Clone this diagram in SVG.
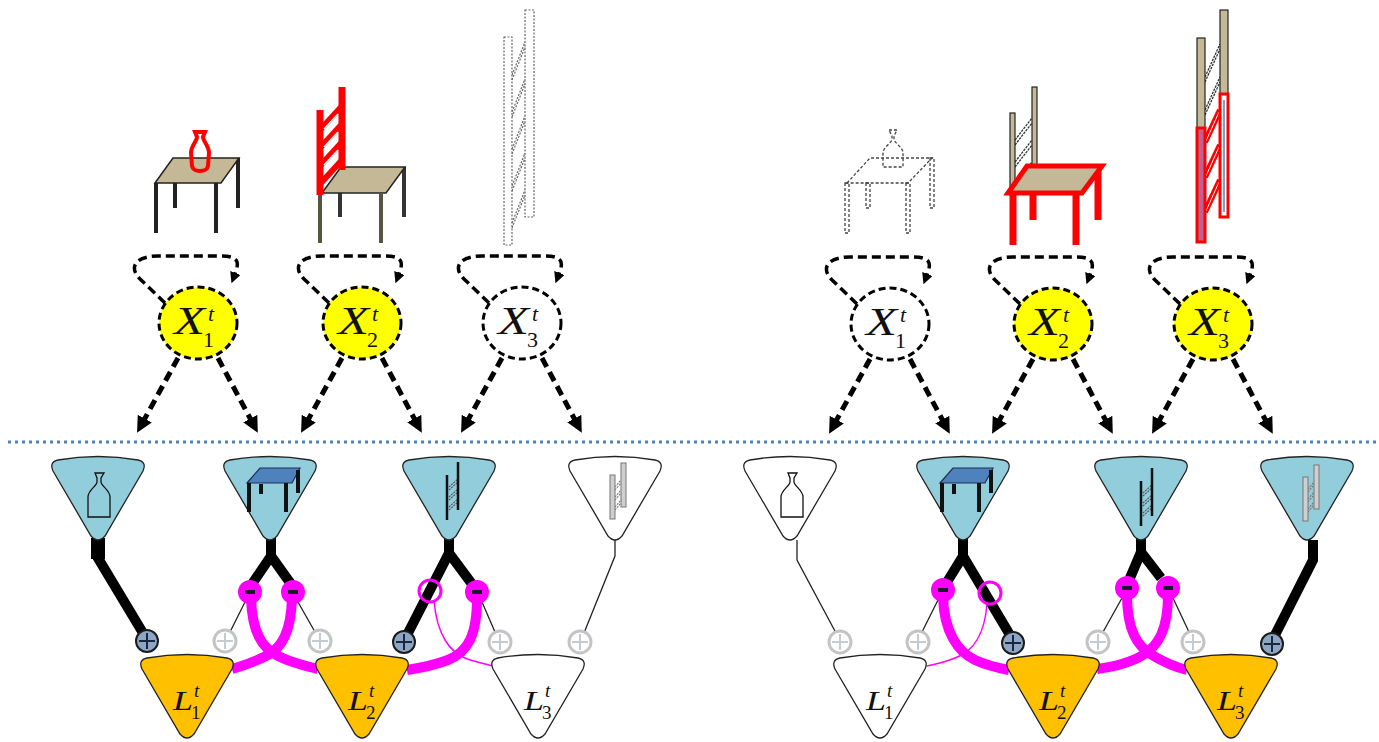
<svg xmlns="http://www.w3.org/2000/svg" xmlns:xlink="http://www.w3.org/1999/xlink" width="1379" height="742" viewBox="0 0 1379 742">
<defs>
<style>
.loop{fill:none;stroke:#000;stroke-width:3.5;stroke-dasharray:9 5;marker-end:url(#ahs)}
.down{fill:none;stroke:#000;stroke-width:5;stroke-dasharray:10 6;marker-end:url(#ah)}
.xn{stroke:#000;stroke-width:3;stroke-dasharray:7 4}
.yel{fill:#ffff00}
.wht{fill:#fff}
.obj{fill:#92cddc;stroke:#222;stroke-width:1.3}
.objw{fill:#fff;stroke:#222;stroke-width:1.3}
.lat{fill:#ffc000;stroke:#222;stroke-width:1.3}
.latw{fill:#fff;stroke:#222;stroke-width:1.3}
.thick{fill:none;stroke:#000;stroke-width:10;stroke-linejoin:miter}
.thin{fill:none;stroke:#222;stroke-width:1.3}
.mag{fill:none;stroke:#ff00ff;stroke-width:10;stroke-linecap:butt}
.magt{fill:none;stroke:#ff00ff;stroke-width:1.5}
.lbl{font-family:"Liberation Serif","Times New Roman",serif;font-style:italic;fill:#111}
.up{font-style:normal}
.tan{fill:#c4b896}
.dot{fill:none;stroke:#666;stroke-width:1.2;stroke-dasharray:2 1.5}
.hatch{fill:none;stroke:#333;stroke-width:1.3;stroke-dasharray:2.5 1}
</style>
<marker id="ah" viewBox="0 0 10 10" refX="1" refY="5" markerWidth="16" markerHeight="16" markerUnits="userSpaceOnUse" orient="auto"><path d="M0,0 L10,5 L0,10 z" fill="#000"/></marker>
<marker id="ahs" viewBox="0 0 10 10" refX="1" refY="5" markerWidth="11" markerHeight="11" markerUnits="userSpaceOnUse" orient="auto"><path d="M0,0 L10,5 L0,10 z" fill="#000"/></marker>
<path id="tri" d="M -40,0 Q 0,-7 40,0 Q 49,2 45,11 L 7,76 Q 0,84 -7,76 L -45,11 Q -49,2 -40,0 Z"/>
<g id="plusB"><circle r="11" fill="#8ea6c4" stroke="#1b1b1b" stroke-width="2"/><path d="M-8,0 H8 M0,-8 V8" stroke="#1a2740" stroke-width="2"/></g>
<g id="plusG"><circle r="11" fill="#fff" stroke="#c4c4c4" stroke-width="3"/><path d="M-8,0 H8 M0,-8 V8" stroke="#c4cbd2" stroke-width="2"/></g>
<g id="minus"><circle r="12" fill="#ff00ff"/><rect x="-5" y="-2" width="10" height="4" fill="#1a1a2a"/></g>
<circle id="ring" r="11" fill="none" stroke="#ff00ff" stroke-width="3"/>
<path id="vaseS" d="M -4,473 L 5,473 L 2,478 L 2,482 C 2,486 11,490 11,497 L 11,517 L -11,517 L -11,497 C -11,490 -2,486 -2,482 L -2,478 Z" fill="none" stroke="#111" stroke-width="1.3"/>
<g id="tableS">
<polygon points="247,483 260,468 300,468 292,483" fill="#4f81bd" stroke="#1f3050" stroke-width="1.2"/>
<path d="M249,483 V512 M286,483 V512 M298,470 V493 M261,484 V494" stroke="#111" stroke-width="4" fill="none"/>
</g>
<g id="ladS">
<path d="M449,487 L458,479 M449,490 L458,482 M449,497 L458,489 M449,500 L458,492 M449,507 L458,499 M449,510 L458,502" stroke="#555" stroke-width="1.1" fill="none" stroke-dasharray="2 1"/>
<path d="M447,475 V520 M458,462 V510" stroke="#111" stroke-width="2.5" fill="none"/>
</g>
<g id="ladG">
<path d="M615,487 L622,479 M615,490 L622,482 M615,497 L622,489 M615,500 L622,492 M615,507 L622,499 M615,510 L622,502" stroke="#777" stroke-width="1.1" fill="none" stroke-dasharray="2 1"/>
<rect x="610" y="475" width="5" height="44" fill="#cfcfcf" stroke="#777" stroke-width="1"/>
<rect x="621" y="463" width="5" height="44" fill="#cfcfcf" stroke="#777" stroke-width="1"/>
</g>
</defs>

<rect width="1379" height="742" fill="#fff"/>

<!-- scene objects, left frame -->
<g id="scene-left-table">
<line x1="175" y1="183" x2="175" y2="208" stroke="#222" stroke-width="4"/>
<line x1="238" y1="158" x2="238" y2="208" stroke="#222" stroke-width="4"/>
<polygon class="tan" points="155,183 173,158 239,158 221,183" stroke="#222" stroke-width="1.5"/>
<line x1="156" y1="183" x2="156" y2="233" stroke="#222" stroke-width="4"/>
<line x1="216" y1="183" x2="216" y2="233" stroke="#222" stroke-width="4"/>
<path d="M 195,132 L 205,132 L 203,137 C 203,141 209,146 209,153 L 208,166 C 207,170 205,171 200,171 C 195,171 193,170 192,166 L 191,153 C 191,146 197,141 197,137 Z" fill="none" stroke="#ff0000" stroke-width="4"/>
</g>
<g id="scene-left-chair">
<line x1="340" y1="190" x2="340" y2="217" stroke="#333" stroke-width="4"/>
<line x1="404" y1="167" x2="404" y2="217" stroke="#333" stroke-width="4"/>
<polygon class="tan" points="322,193 341,167 405,167 386,193" stroke="#222" stroke-width="1.5"/>
<line x1="320" y1="193" x2="320" y2="243" stroke="#555540" stroke-width="4"/>
<line x1="381" y1="193" x2="381" y2="243" stroke="#555540" stroke-width="4"/>
<g stroke="#ff0000" stroke-width="7">
<line x1="320" y1="110" x2="320" y2="195"/>
<line x1="342" y1="87" x2="342" y2="170"/>
<line x1="320" y1="130" x2="342" y2="106" stroke-width="6"/>
<line x1="320" y1="148" x2="342" y2="124" stroke-width="6"/>
<line x1="320" y1="166" x2="342" y2="142" stroke-width="6"/>
<line x1="320" y1="184" x2="342" y2="160" stroke-width="6"/>
</g>
<g stroke="#fff" stroke-width="1.5">
<line x1="324" y1="129" x2="338" y2="114"/>
<line x1="324" y1="147" x2="338" y2="132"/>
<line x1="324" y1="165" x2="338" y2="150"/>
</g>
</g>
<g id="scene-left-ladder">
<path class="dot" stroke="#555" d="M512,75 L525,42 M512,80 L525,47 M512,112 L525,79 M512,117 L525,84 M512,149 L525,116 M512,154 L525,121 M512,186 L525,153 M512,191 L525,158 M512,223 L525,190 M512,228 L525,195"/>
<rect class="dot" x="504" y="37" width="8" height="208"/>
<rect class="dot" x="525" y="10" width="9" height="207"/>
</g>

<!-- scene objects, right frame -->
<g id="scene-right-table">
<g fill="none" stroke="#444" stroke-width="1.3" stroke-dasharray="3 2">
<polygon points="847,183 870,158 932,158 908,183"/>
<rect x="845" y="183" width="4" height="50"/>
<rect x="906" y="183" width="4" height="50"/>
<rect x="930" y="158" width="4" height="50"/>
<rect x="866" y="183" width="4" height="25"/>
<path d="M 889,130 L 897,130 L 894,136 L 894,139 C 894,143 903,147 903,153 L 903,167 L 883,167 L 883,153 C 883,147 892,143 892,139 L 892,136 Z"/>
</g>
</g>
<g id="scene-right-chair">
<path class="hatch" d="M1015,140 L1032,118 M1015,145 L1032,123 M1015,162 L1032,140 M1015,167 L1032,145 M1015,184 L1032,162 M1015,189 L1032,167"/>
<rect class="tan" x="1010" y="113" width="5" height="82" stroke="#222" stroke-width="1.2"/>
<rect class="tan" x="1032" y="87" width="5" height="80" stroke="#222" stroke-width="1.2"/>
<g stroke="#ff0000" stroke-width="7">
<line x1="1033" y1="193" x2="1033" y2="220"/>
<line x1="1098" y1="166" x2="1098" y2="220"/>
</g>
<polygon class="tan" points="1008,193 1027,166 1102,166 1082,193" stroke="#ff0000" stroke-width="5"/>
<g stroke="#ff0000" stroke-width="7">
<line x1="1013" y1="193" x2="1013" y2="245"/>
<line x1="1076" y1="193" x2="1076" y2="245"/>
</g>
</g>
<g id="scene-right-ladder">
<path class="hatch" d="M1205,77 L1220,44 M1205,82 L1220,49 M1205,110 L1220,77 M1205,115 L1220,82"/>
<rect class="tan" x="1197" y="38" width="8" height="90" stroke="#222" stroke-width="1.2"/>
<rect class="tan" x="1220" y="10" width="8" height="84" stroke="#222" stroke-width="1.2"/>
<g stroke="#ff0000" stroke-width="6">
<line x1="1205" y1="142" x2="1220" y2="110"/>
<line x1="1205" y1="177" x2="1220" y2="145"/>
<line x1="1205" y1="212" x2="1220" y2="180"/>
</g>
<g stroke="#fff" stroke-width="1">
<line x1="1206" y1="141" x2="1219" y2="112"/>
<line x1="1206" y1="176" x2="1219" y2="147"/>
<line x1="1206" y1="211" x2="1219" y2="182"/>
</g>
<rect x="1197" y="128" width="8" height="114" fill="#c06090" stroke="#ff0000" stroke-width="3"/>
<rect x="1220" y="94" width="8" height="123" fill="#fff" stroke="#ff0000" stroke-width="3"/>
<line x1="1224" y1="100" x2="1224" y2="212" stroke="#5a7fb5" stroke-width="1.5"/>
</g>

<!-- frame separator -->
<line id="separator" x1="8" y1="442" x2="1377" y2="442" stroke="#4f81bd" stroke-width="3" stroke-dasharray="3 4"/>

<!-- connectors -->
<g id="connectors">
<g transform="translate(198,323)"><path class="loop" d="M -33,-20 L -58,-44 C -70,-56 -62,-67 -40,-67 L 22,-67 C 40,-67 42,-62 37,-49"/><path class="down" d="M -20,35 L -54,97"/><path class="down" d="M 20,35 L 53,97"/></g>
<g transform="translate(362,323)"><path class="loop" d="M -33,-20 L -58,-44 C -70,-56 -62,-67 -40,-67 L 22,-67 C 40,-67 42,-62 37,-49"/><path class="down" d="M -20,35 L -54,97"/><path class="down" d="M 20,35 L 53,97"/></g>
<g transform="translate(522,323)"><path class="loop" d="M -33,-20 L -58,-44 C -70,-56 -62,-67 -40,-67 L 22,-67 C 40,-67 42,-62 37,-49"/><path class="down" d="M -20,35 L -54,97"/><path class="down" d="M 20,35 L 53,97"/></g>
<g transform="translate(890,324)"><path class="loop" d="M -33,-20 L -58,-44 C -70,-56 -62,-67 -40,-67 L 22,-67 C 40,-67 42,-62 37,-49"/><path class="down" d="M -20,35 L -54,97"/><path class="down" d="M 20,35 L 53,97"/></g>
<g transform="translate(1053,324)"><path class="loop" d="M -33,-20 L -58,-44 C -70,-56 -62,-67 -40,-67 L 22,-67 C 40,-67 42,-62 37,-49"/><path class="down" d="M -20,35 L -54,97"/><path class="down" d="M 20,35 L 53,97"/></g>
<g transform="translate(1213,324)"><path class="loop" d="M -33,-20 L -58,-44 C -70,-56 -62,-67 -40,-67 L 22,-67 C 40,-67 42,-62 37,-49"/><path class="down" d="M -20,35 L -54,97"/><path class="down" d="M 20,35 L 53,97"/></g>

<!-- left frame links -->
<rect x="91" y="538" width="14" height="21" fill="#000"/>
<path class="thick" d="M 98,550 L 98,558 L 143,633"/>
<path class="thick" d="M 271,536 L 271,556 L 252,584 M 271,556 L 291,584"/>
<path class="thick" d="M 449,536 L 449,553 L 407,635 M 449,553 L 472,584"/>
<path class="thin" d="M 615,540 L 615,556 L 584,633"/>
<path class="thin" d="M 245,602 L 230,632 M 298,602 L 315,632 M 482,602 L 495,632"/>
<path class="mag" d="M 251,598 C 252,632 262,648 278,656 C 290,662 305,666 318,669"/>
<path class="mag" d="M 292,598 C 291,632 282,648 266,656 C 254,662 242,666 232,669"/>
<path class="magt" d="M 434,601 C 437,635 450,652 465,658 C 475,662 485,664 493,666"/>
<path class="mag" d="M 477,598 C 477,635 468,652 448,660 C 432,666 420,668 407,670"/>
<use href="#plusB" x="147" y="641"/>
<use href="#plusG" x="225" y="641"/>
<use href="#plusG" x="320" y="641"/>
<use href="#plusB" x="404" y="642"/>
<use href="#plusG" x="500" y="642"/>
<use href="#plusG" x="580" y="642"/>
<use href="#minus" x="250" y="592"/>
<use href="#minus" x="293" y="592"/>
<use href="#ring" x="430" y="591"/>
<use href="#minus" x="477" y="592"/>

<!-- right frame links -->
<path class="thin" d="M 797,540 L 797,560 L 836,633"/>
<path class="thick" d="M 963,536 L 963,556 L 947,582 M 963,556 L 1010,635"/>
<path class="thick" d="M 1141,536 L 1141,552 L 1130,578 M 1141,552 L 1161,578"/>
<path class="thick" d="M 1313,540 L 1313,560 L 1275,635"/>
<path class="thin" d="M 938,600 L 922,632 M 1122,598 L 1103,632 M 1173,598 L 1189,632"/>
<path class="magt" d="M 987,603 C 985,635 972,652 955,658 C 945,662 937,664 927,666"/>
<path class="mag" d="M 943,597 C 944,632 958,652 975,660 C 988,666 998,668 1009,670"/>
<path class="mag" d="M 1127,595 C 1127,630 1137,646 1152,655 C 1165,663 1175,667 1187,670"/>
<path class="mag" d="M 1168,595 C 1168,630 1158,646 1143,655 C 1130,663 1112,667 1097,669"/>
<use href="#plusG" x="840" y="642"/>
<use href="#plusG" x="918" y="642"/>
<use href="#plusB" x="1013" y="643"/>
<use href="#plusG" x="1098" y="642"/>
<use href="#plusG" x="1193" y="642"/>
<use href="#plusB" x="1272" y="644"/>
<use href="#minus" x="943" y="590"/>
<use href="#ring" x="990" y="593"/>
<use href="#minus" x="1127" y="588"/>
<use href="#minus" x="1168" y="588"/>
</g>

<!-- hidden state nodes -->
<g id="X1-left"><ellipse class="xn yel" cx="198" cy="323" rx="39" ry="36"/><text class="lbl" x="174" y="334" font-size="40" textLength="31" lengthAdjust="spacingAndGlyphs">X</text><text class="lbl" x="208" y="321" font-size="22">t</text><text class="lbl up" x="203" y="347" font-size="22">1</text></g>
<g id="X2-left"><ellipse class="xn yel" cx="362" cy="323" rx="39" ry="36"/><text class="lbl" x="338" y="334" font-size="40" textLength="31" lengthAdjust="spacingAndGlyphs">X</text><text class="lbl" x="372" y="321" font-size="22">t</text><text class="lbl up" x="367" y="347" font-size="22">2</text></g>
<g id="X3-left"><ellipse class="xn wht" cx="522" cy="323" rx="39" ry="36"/><text class="lbl" x="498" y="334" font-size="40" textLength="31" lengthAdjust="spacingAndGlyphs">X</text><text class="lbl" x="532" y="321" font-size="22">t</text><text class="lbl up" x="527" y="347" font-size="22">3</text></g>
<g id="X1-right"><ellipse class="xn wht" cx="890" cy="324" rx="39" ry="36"/><text class="lbl" x="866" y="335" font-size="40" textLength="31" lengthAdjust="spacingAndGlyphs">X</text><text class="lbl" x="900" y="322" font-size="22">t</text><text class="lbl up" x="895" y="348" font-size="22">1</text></g>
<g id="X2-right"><ellipse class="xn yel" cx="1053" cy="324" rx="39" ry="36"/><text class="lbl" x="1029" y="335" font-size="40" textLength="31" lengthAdjust="spacingAndGlyphs">X</text><text class="lbl" x="1063" y="322" font-size="22">t</text><text class="lbl up" x="1058" y="348" font-size="22">2</text></g>
<g id="X3-right"><ellipse class="xn yel" cx="1213" cy="324" rx="39" ry="36"/><text class="lbl" x="1189" y="335" font-size="40" textLength="31" lengthAdjust="spacingAndGlyphs">X</text><text class="lbl" x="1223" y="322" font-size="22">t</text><text class="lbl up" x="1218" y="348" font-size="22">3</text></g>

<!-- object part nodes -->
<g id="part-vase-left"><use href="#tri" class="obj" x="98" y="460"/><use href="#vaseS" x="99" y="0"/></g>
<g id="part-table-left"><use href="#tri" class="obj" x="270" y="460"/><use href="#tableS"/></g>
<g id="part-ladder-left"><use href="#tri" class="obj" x="449" y="460"/><use href="#ladS"/></g>
<g id="part-ladder2-left"><use href="#tri" class="objw" x="615" y="460"/><use href="#ladG"/></g>
<g id="part-vase-right"><use href="#tri" class="objw" x="790" y="460"/><use href="#vaseS" x="792" y="0"/></g>
<g id="part-table-right"><use href="#tri" class="obj" x="963" y="460"/><use href="#tableS" x="693" y="0"/></g>
<g id="part-ladder-right"><use href="#tri" class="obj" x="1141" y="460"/><use href="#ladS" x="694" y="6"/></g>
<g id="part-ladder2-right"><use href="#tri" class="obj" x="1307" y="460"/><use href="#ladG" x="693" y="2"/></g>

<!-- layer nodes -->
<g id="L1-left"><use href="#tri" class="lat" x="187" y="658"/><text class="lbl" x="173" y="710" font-size="28" textLength="20" lengthAdjust="spacingAndGlyphs">L</text><text class="lbl" x="194" y="697" font-size="19">t</text><text class="lbl up" x="191" y="719" font-size="19">1</text></g>
<g id="L2-left"><use href="#tri" class="lat" x="362" y="658"/><text class="lbl" x="348" y="710" font-size="28" textLength="20" lengthAdjust="spacingAndGlyphs">L</text><text class="lbl" x="369" y="697" font-size="19">t</text><text class="lbl up" x="366" y="719" font-size="19">2</text></g>
<g id="L3-left"><use href="#tri" class="latw" x="538" y="658"/><text class="lbl" x="524" y="710" font-size="28" textLength="20" lengthAdjust="spacingAndGlyphs">L</text><text class="lbl" x="545" y="697" font-size="19">t</text><text class="lbl up" x="542" y="719" font-size="19">3</text></g>
<g id="L1-right"><use href="#tri" class="latw" x="880" y="658"/><text class="lbl" x="866" y="710" font-size="28" textLength="20" lengthAdjust="spacingAndGlyphs">L</text><text class="lbl" x="887" y="697" font-size="19">t</text><text class="lbl up" x="884" y="719" font-size="19">1</text></g>
<g id="L2-right"><use href="#tri" class="lat" x="1053" y="658"/><text class="lbl" x="1039" y="710" font-size="28" textLength="20" lengthAdjust="spacingAndGlyphs">L</text><text class="lbl" x="1060" y="697" font-size="19">t</text><text class="lbl up" x="1057" y="719" font-size="19">2</text></g>
<g id="L3-right"><use href="#tri" class="lat" x="1231" y="658"/><text class="lbl" x="1217" y="710" font-size="28" textLength="20" lengthAdjust="spacingAndGlyphs">L</text><text class="lbl" x="1238" y="697" font-size="19">t</text><text class="lbl up" x="1235" y="719" font-size="19">3</text></g>
</svg>
